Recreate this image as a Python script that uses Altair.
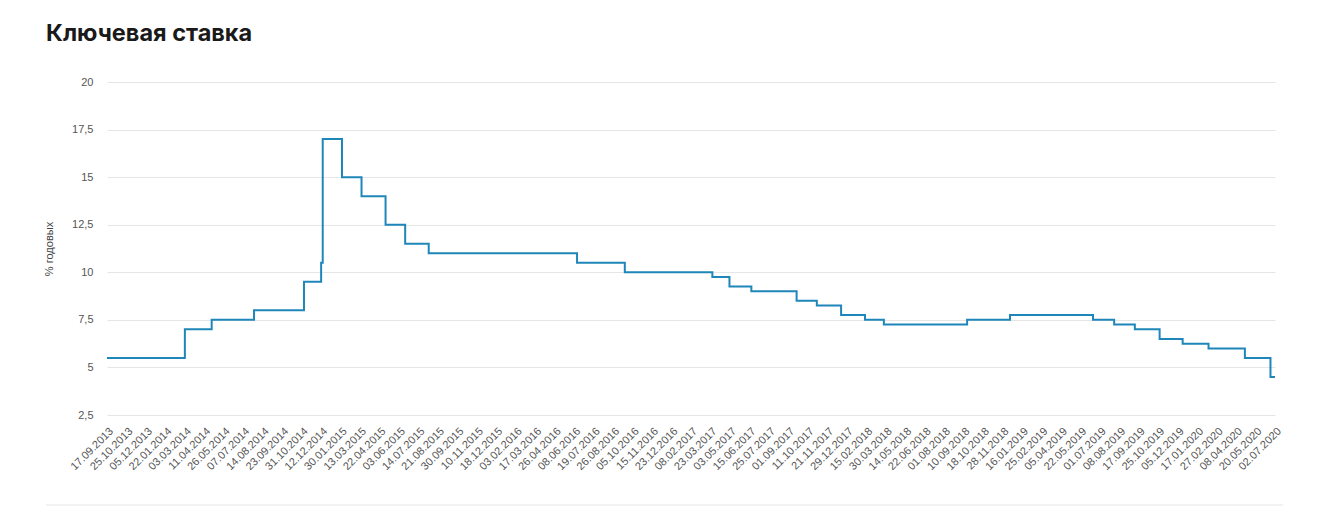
import altair as alt
import pandas as pd
import numpy as np

# Tick labels on the x axis (dates shown on the reference)
tick_labels = [
    "17.09.2013", "25.10.2013", "05.12.2013", "22.01.2014", "03.03.2014", "11.04.2014",
    "26.05.2014", "07.07.2014", "14.08.2014", "23.09.2014", "31.10.2014", "12.12.2014",
    "30.01.2015", "13.03.2015", "22.04.2015", "03.06.2015", "14.07.2015", "21.08.2015",
    "30.09.2015", "10.11.2015", "18.12.2015", "03.02.2016", "17.03.2016", "26.04.2016",
    "08.06.2016", "19.07.2016", "26.08.2016", "05.10.2016", "15.11.2016", "23.12.2016",
    "08.02.2017", "23.03.2017", "03.05.2017", "15.06.2017", "25.07.2017", "01.09.2017",
    "11.10.2017", "21.11.2017", "29.12.2017", "15.02.2018", "30.03.2018", "14.05.2018",
    "22.06.2018", "01.08.2018", "10.09.2018", "18.10.2018", "28.11.2018", "16.01.2019",
    "25.02.2019", "05.04.2019", "22.05.2019", "01.07.2019", "08.08.2019", "17.09.2019",
    "25.10.2019", "05.12.2019", "17.01.2020", "27.02.2020", "08.04.2020", "20.05.2020",
    "02.07.2020",
]

# Key rate: dates of change and the new rate (% per year)
change_dates = [
    "17.09.2013", "03.03.2014", "28.04.2014", "28.07.2014", "05.11.2014", "12.12.2014",
    "16.12.2014", "02.02.2015", "16.03.2015", "05.05.2015", "16.06.2015", "03.08.2015",
    "14.06.2016", "19.09.2016", "27.03.2017", "02.05.2017", "19.06.2017", "18.09.2017",
    "30.10.2017", "18.12.2017", "12.02.2018", "26.03.2018", "17.09.2018", "17.12.2018",
    "17.06.2019", "29.07.2019", "09.09.2019", "28.10.2019", "16.12.2019", "10.02.2020",
    "27.04.2020", "22.06.2020", "02.07.2020",
]
rates = [
    5.5, 7.0, 7.5, 8.0, 9.5, 10.5,
    17.0, 15.0, 14.0, 12.5, 11.5, 11.0,
    10.5, 10.0, 9.75, 9.25, 9.0, 8.5,
    8.25, 7.75, 7.5, 7.25, 7.5, 7.75,
    7.5, 7.25, 7.0, 6.5, 6.25, 6.0,
    5.5, 4.5, 4.5,
]

y_ticks = [2.5, 5, 7.5, 10, 12.5, 15, 17.5, 20]


def to_ms(s):
    return int(pd.Timestamp(pd.to_datetime(s, format="%d.%m.%Y"), tz="UTC").value // 10**6)


tick_ms = [to_ms(s) for s in tick_labels]
df = pd.DataFrame({"date": [to_ms(s) for s in change_dates], "rate": rates})

W = 1170
H = 333
# evenly spaced tick positions (the source chart uses a trading-day axis)
x_range = [float(v) for v in np.linspace(0, W - 2, len(tick_ms))]

FONT = "Liberation Sans"

line = alt.Chart(df).mark_line(
    interpolate="step-after", color="#1f86b9", strokeWidth=2
).encode(
    x=alt.X(
        "date:Q",
        scale=alt.Scale(type="linear", domain=tick_ms, range=x_range, nice=False, zero=False),
        axis=alt.Axis(
            values=tick_ms,
            labelExpr="utcFormat(datum.value, '%d.%m.%Y')",
            labelAngle=-45,
            labelAlign="right",
            labelBaseline="top",
            labelFontSize=11,
            labelColor="#555555",
            labelFont=FONT,
            labelPadding=10,
            labelOverlap=False,
            grid=False,
            ticks=False,
            domain=False,
            title=None,
        ),
    ),
    y=alt.Y(
        "rate:Q",
        scale=alt.Scale(domain=[2.5, 20], nice=False, zero=False),
        axis=alt.Axis(
            values=y_ticks,
            labelExpr="replace(format(datum.value, '.1~f'), '.', ',')",
            labelFontSize=11,
            labelColor="#555555",
            labelFont=FONT,
            labelPadding=14,
            ticks=False,
            domain=False,
            grid=True,
            gridColor="#e6e6e6",
            title="% годовых",
            titleFont=FONT,
            titleFontSize=11,
            titleFontWeight="normal",
            titleColor="#444444",
            titlePadding=17,
        ),
    ),
)

separator = alt.Chart(pd.DataFrame({"a": [0]})).mark_rule(
    color="#e6e6e6", strokeWidth=1
).encode(
    x=alt.value(-61), x2=alt.value(1176), y=alt.value(423)
)

chart = alt.layer(line, separator).properties(
    width=W,
    height=H,
    autosize=alt.AutoSizeParams(type="none"),
    padding={"left": 99, "top": 74, "right": 1316 - 99 - W, "bottom": 505 - 74 - H},
    title=alt.TitleParams(
        "Ключевая ставка",
        anchor="start",
        frame="group",
        font="Inter",
        fontSize=23.5,
        fontWeight="bold",
        color="#1a1a1a",
        dx=-61,
        offset=31,
    ),
    background="white",
).configure_view(stroke=None)

chart.save("out.html", embed_options={"renderer": "svg", "actions": False})
